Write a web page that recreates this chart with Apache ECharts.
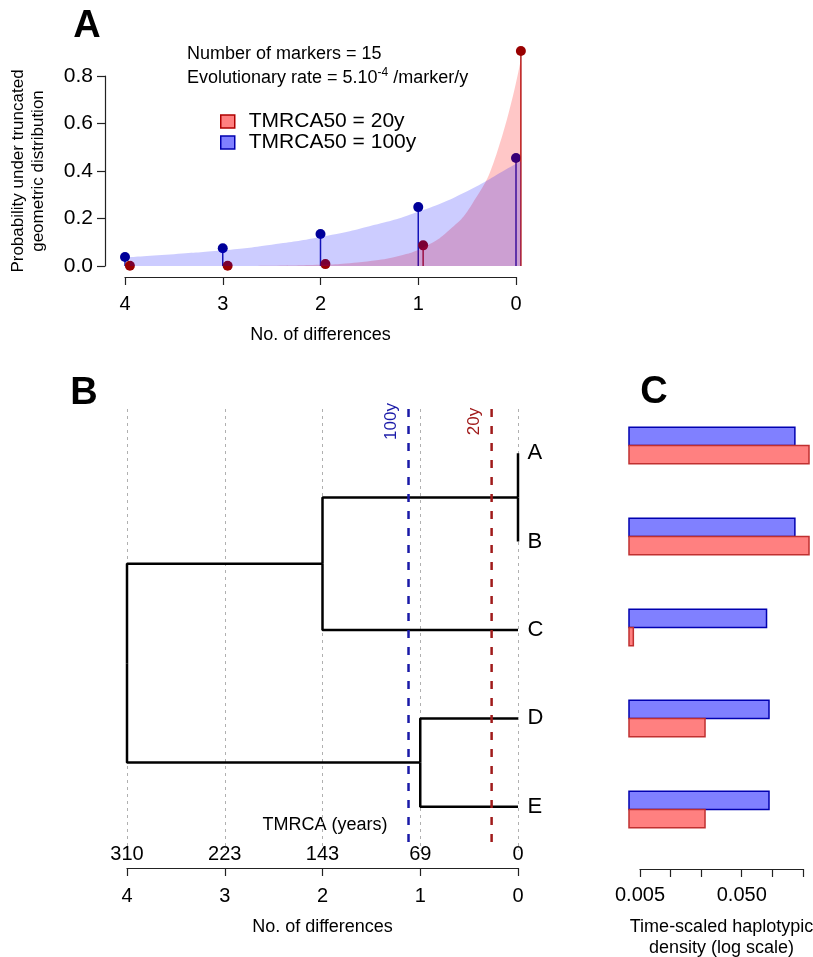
<!DOCTYPE html>
<html>
<head>
<meta charset="utf-8">
<script src="https://cdn.jsdelivr.net/npm/echarts@6/dist/echarts.min.js"></script>
<style>html,body{margin:0;background:#fff}#main{width:813px;height:957px}</style>
</head>
<body>
<div id="main"></div>
<script>
// panel A: probability for each number of differences
var diffs = [4, 3, 2, 1, 0];
var prob100 = [0.038, 0.075, 0.135, 0.248, 0.455];
var prob20 = [0.001, 0.001, 0.008, 0.087, 0.905];
// shaded curves
var curve100X = [-0.05, 0, 0.5, 1, 1.5, 2, 2.5, 3, 3.5, 3.95];
var curve100Y = [0.44, 0.43, 0.315, 0.228, 0.167, 0.122, 0.09, 0.066, 0.05, 0.038];
var curve20X = [-0.05, 0.2, 0.45, 0.7, 0.95, 1.2, 1.45, 1.7, 1.95, 2.5, 3, 3.5, 3.95];
var curve20Y = [0.87, 0.47, 0.26, 0.145, 0.078, 0.042, 0.023, 0.012, 0.006, 0.001, 0, 0, 0];

// panel B: tree (heights in number of differences)
var leaves = ['A', 'B', 'C', 'D', 'E'];
var yearsLabels = [310, 223, 143, 69, 0];   // for 4,3,2,1,0 differences
var nodeName = ['A', 'B', 'C', 'D', 'E', 'AB', 'ABC', 'DE', 'root'];
var nodeHeight = [0, 0, 0, 0, 0, 0, 2, 1, 4];
var nodeParent = [5, 5, 6, 7, 7, 6, 8, 8, -1];
var tmrca50Pos = [1.12, 0.27];
var tmrca50Lab = ['100y', '20y'];

// panel C: time-scaled haplotypic density
var density100 = [0.165, 0.165, 0.087, 0.092, 0.092];
var density20 = [0.227, 0.227, 0.0043, 0.0217, 0.0217];
var densityTicks = [0.005, 0.01, 0.02, 0.05, 0.1, 0.2];
var densityLabels = [0.005, 0.05];

var FONT = 'Liberation Sans, Arial, sans-serif';
var BLUE = '#000099', RED = '#990000';
var chart = echarts.init(document.getElementById('main'));

// y of tree nodes: leaves in order, internal nodes in the middle of their children
var nodeY = [];
leaves.forEach(function (n, i) { nodeY[i] = i + 1; });
for (var k = leaves.length; k < nodeName.length; k++) {
    var ys = [];
    nodeParent.forEach(function (p, i) { if (p === k) ys.push(nodeY[i]); });
    nodeY[k] = (Math.min.apply(null, ys) + Math.max.apply(null, ys)) / 2;
}

function zip(xs, ys) { return xs.map(function (x, i) { return [x, ys[i]]; }); }

// stem + dot
function stemItem(lineColor, dotColor) {
    return function (params, api) {
        var top = api.coord([api.value(0), api.value(1)]);
        var base = api.coord([api.value(0), 0]);
        return {type: 'group', children: [
            {type: 'line', shape: {x1: top[0], y1: top[1], x2: base[0], y2: base[1]},
             style: {stroke: lineColor, lineWidth: 1.5}},
            {type: 'circle', shape: {cx: top[0], cy: top[1], r: 5}, style: {fill: dotColor}}
        ]};
    };
}

// horizontal bars on the log axis, blue above red in each band
function barItem(base, upper, fill, stroke) {
    return function (params, api) {
        var idx = api.value(1);
        var end = api.coord([api.value(0), idx]);
        var start = api.coord([base, idx]);
        var band = Math.abs(api.coord([base, 1])[1] - api.coord([base, 0])[1]);
        var h = band * 0.2;
        return {type: 'rect',
            shape: {x: start[0], y: upper ? end[1] - h : end[1], width: end[0] - start[0], height: h},
            style: {fill: fill, stroke: stroke, lineWidth: 1.5}};
    };
}

var series = [
    {name: 'TMRCA50 = 20y', type: 'line', xAxisIndex: 0, yAxisIndex: 0,
     data: zip(curve20X, curve20Y), smooth: 0.5, symbol: 'none',
     lineStyle: {width: 0}, areaStyle: {color: 'rgba(255,0,0,0.22)', opacity: 1}},
    {name: 'TMRCA50 = 100y', type: 'line', xAxisIndex: 0, yAxisIndex: 0,
     data: zip(curve100X, curve100Y), smooth: 0.5, symbol: 'none',
     lineStyle: {width: 0}, areaStyle: {color: 'rgba(0,0,255,0.2)', opacity: 1}},
    {type: 'custom', xAxisIndex: 0, yAxisIndex: 0, data: zip(diffs, prob100),
     renderItem: stemItem('#1a1aa8', BLUE)},
    {type: 'custom', xAxisIndex: 0, yAxisIndex: 0,
     data: zip(diffs.map(function (d) { return d - 0.05; }), prob20),
     renderItem: stemItem('#b01a1a', RED)}
];

// tree branches
nodeName.forEach(function (n, i) {
    var p = nodeParent[i];
    if (p < 0) return;
    series.push({type: 'line', xAxisIndex: 3, yAxisIndex: 3, symbol: 'none', silent: true,
        data: [[nodeHeight[i], nodeY[i]], [nodeHeight[p], nodeY[i]], [nodeHeight[p], nodeY[p]]],
        lineStyle: {color: '#000', width: 2.5}});
});
// leaf names
series.push({type: 'scatter', xAxisIndex: 3, yAxisIndex: 3, symbolSize: 1,
    itemStyle: {color: 'transparent', opacity: 1},
    data: leaves.map(function (n, i) { return [0, nodeY[i], n]; }),
    label: {show: true, position: 'right', distance: 9, fontSize: 22, color: '#000', fontFamily: FONT,
            formatter: function (p) { return p.value[2]; }}});
// TMRCA50 dashed lines
tmrca50Pos.forEach(function (x, i) {
    var col = i === 0 ? '#1a1aa8' : '#a01a1a';
    series.push({type: 'line', xAxisIndex: 3, yAxisIndex: 3, symbol: 'none', silent: true,
        data: [[x, 0.5], [x, 5.5]], lineStyle: {color: col, width: 2.5, type: [8, 9]}});
    series.push({type: 'scatter', xAxisIndex: 3, yAxisIndex: 3, symbolSize: 1,
        itemStyle: {color: 'transparent', opacity: 1}, data: [[x, 0.5, tmrca50Lab[i]]],
        label: {show: true, rotate: 90, position: [-17, 13], align: 'center', verticalAlign: 'middle',
                fontSize: 17, color: col, fontFamily: FONT,
                formatter: function (p) { return p.value[2]; }}});
});
// panel C bars
series.push({type: 'custom', xAxisIndex: 5, yAxisIndex: 4,
    data: density100.map(function (v, i) { return [v, i]; }),
    renderItem: barItem(0.0039, true, '#8080ff', '#0000b0')});
series.push({type: 'custom', xAxisIndex: 5, yAxisIndex: 4,
    data: density20.map(function (v, i) { return [v, i]; }),
    renderItem: barItem(0.0039, false, '#ff8080', '#c03030')});

var tickFont = {fontSize: 20, color: '#000', fontFamily: FONT};
var nameFont = {fontSize: 18, color: '#000', fontFamily: FONT};
var axLine = {show: true, lineStyle: {color: '#222', width: 1.2}};
var axTick = {show: true, length: 8, lineStyle: {color: '#222', width: 1.2}};

function grid(left, top, width, height) {
    return {left: left, top: top, width: width, height: height, outerBoundsMode: 'none', containLabel: false};
}

var option = {
    animation: false,
    backgroundColor: '#fff',
    textStyle: {fontFamily: FONT},
    grid: [
        grid(105, 45, 431, 232),
        grid(105, 76, 10, 190),
        grid(125, 270, 391, 7),
        grid(127, 409, 391, 442),
        grid(629, 400, 184, 455),
        grid(640, 860, 163, 9)
    ],
    xAxis: [
        {gridIndex: 0, type: 'value', inverse: true, min: -0.2046, max: 4.2046, show: false},
        {gridIndex: 1, type: 'value', show: false},
        {gridIndex: 2, type: 'value', inverse: true, min: 0, max: 4, interval: 1,
         axisLine: axLine, axisTick: axTick, splitLine: {show: false},
         axisLabel: Object.assign({margin: 17}, tickFont),
         name: 'No. of differences', nameLocation: 'middle', nameGap: 49, nameTextStyle: nameFont},
        {gridIndex: 3, type: 'value', position: 'bottom', inverse: true, min: 0, max: 4, interval: 1, offset: 17,
         axisLine: axLine, axisTick: axTick,
         splitLine: {show: true, lineStyle: {color: '#b0b0b0', width: 1, type: [3, 4]}},
         axisLabel: Object.assign({margin: 18}, tickFont),
         name: 'No. of differences', nameLocation: 'middle', nameGap: 50, nameTextStyle: nameFont},
        {gridIndex: 3, type: 'value', position: 'bottom', inverse: true, min: 0, max: 4, interval: 1, offset: -10,
         axisLine: {show: false}, axisTick: {show: false}, splitLine: {show: false},
         axisLabel: Object.assign({margin: 3, formatter: function (v) { return yearsLabels[diffs.indexOf(v)]; }}, tickFont)},
        {gridIndex: 4, type: 'log', min: 0.0039, max: 0.2484, show: false},
        {gridIndex: 5, type: 'log', min: 0.005, max: 0.2,
         axisLine: axLine, splitLine: {show: false},
         axisTick: Object.assign({customValues: densityTicks}, axTick),
         axisLabel: Object.assign({margin: 16, customValues: densityLabels,
             formatter: function (v) { return v.toFixed(3); }}, tickFont),
         name: 'Time-scaled haplotypic\ndensity (log scale)', nameLocation: 'middle', nameGap: 48,
         nameTextStyle: Object.assign({lineHeight: 21}, nameFont)}
    ],
    yAxis: [
        {gridIndex: 0, type: 'value', min: -0.0463, max: 0.9305, show: false},
        {gridIndex: 1, type: 'value', min: 0, max: 0.8, interval: 0.2,
         axisLine: axLine, axisTick: axTick, splitLine: {show: false},
         axisLabel: Object.assign({margin: 12, formatter: function (v) { return v.toFixed(1); }}, tickFont, {fontSize: 21}),
         name: 'Probability under truncated\ngeometric distribution', nameLocation: 'middle', nameGap: 57,
         nameTextStyle: Object.assign({lineHeight: 20}, nameFont, {fontSize: 17})},
        {gridIndex: 2, type: 'value', show: false},
        {gridIndex: 3, type: 'value', inverse: true, min: 0.5, max: 5.5, show: false},
        {gridIndex: 4, type: 'category', inverse: true, data: leaves, show: false},
        {gridIndex: 5, type: 'value', show: false}
    ],
    legend: {
        left: 220, top: 111, orient: 'vertical', padding: 0, itemWidth: 14, itemHeight: 13, itemGap: 0,
        selectedMode: false,
        textStyle: {fontSize: 21, color: '#000', fontFamily: FONT, padding: [0, 0, 0, 9]},
        data: [
            {name: 'TMRCA50 = 20y', icon: 'rect', itemStyle: {color: '#ff8080', borderColor: '#b00000', borderWidth: 1.5}},
            {name: 'TMRCA50 = 100y', icon: 'rect', itemStyle: {color: '#8080ff', borderColor: '#0000b0', borderWidth: 1.5}}
        ]
    },
    graphic: [
        {type: 'text', x: 87, y: 27, style: {text: 'A', font: 'bold 38px ' + FONT, fill: '#000', align: 'center', verticalAlign: 'middle'}},
        {type: 'text', x: 84, y: 394, style: {text: 'B', font: 'bold 38px ' + FONT, fill: '#000', align: 'center', verticalAlign: 'middle'}},
        {type: 'text', x: 654, y: 393, style: {text: 'C', font: 'bold 38px ' + FONT, fill: '#000', align: 'center', verticalAlign: 'middle'}},
        {type: 'text', x: 187, y: 54, style: {text: 'Number of markers = 15', font: '18px ' + FONT, fill: '#000', verticalAlign: 'middle'}},
        {type: 'text', x: 187, y: 78, style: {
            text: '{a|Evolutionary rate = 5.10}{s|-4}{a| /marker/y}', verticalAlign: 'middle',
            rich: {a: {fontSize: 18, fontFamily: FONT, fill: '#000'},
                   s: {fontSize: 12, fontFamily: FONT, fill: '#000', padding: [0, 0, 10, 0]}}}},
        {type: 'text', x: 325, y: 825, style: {text: 'TMRCA (years)', font: '18px ' + FONT, fill: '#000', align: 'center', verticalAlign: 'middle'}}
    ],
    series: series
};
chart.setOption(option);
</script>
</body>
</html>
